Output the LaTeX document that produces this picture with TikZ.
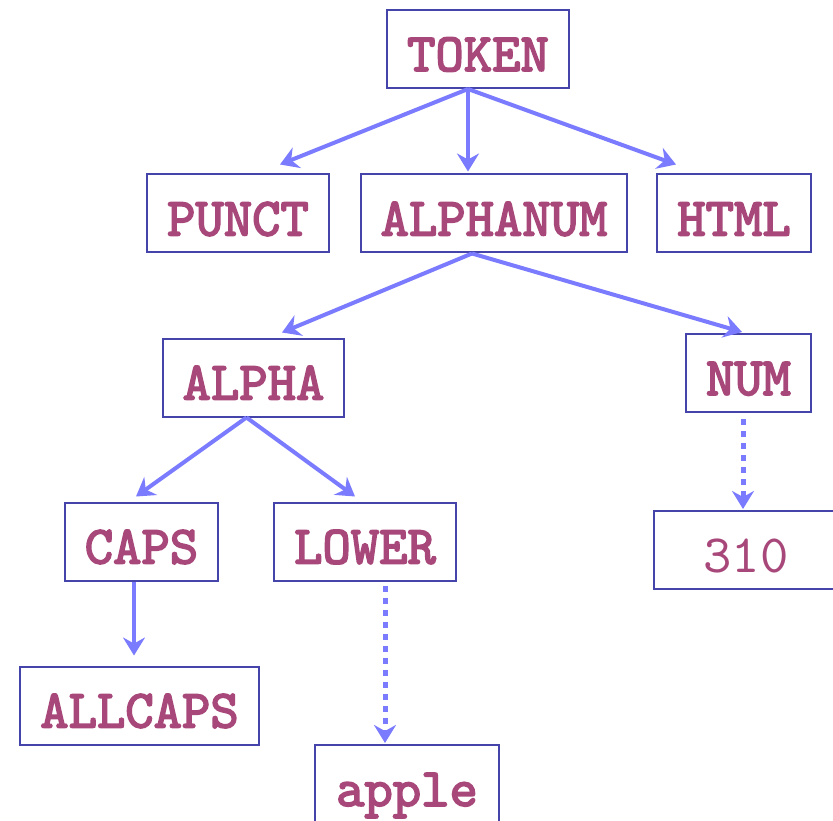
\documentclass[tikz,border=0pt]{standalone}
\usepackage{fontspec}
\setmonofont{lmmono10-regular.otf}[BoldFont=lmmono10-regular.otf,BoldFeatures={FakeBold=3}]
\usetikzlibrary{arrows.meta}
\definecolor{boxline}{HTML}{4444AA}
\definecolor{tagtext}{HTML}{A8487A}
\definecolor{arrowline}{HTML}{7B7BFF}

\begin{document}
\begin{tikzpicture}[x=1pt,y=-1pt,
    >={Stealth[length=18pt,width=22pt,inset=6pt]},
    tag/.style={draw=boxline,line width=2pt,text=tagtext,inner xsep=20pt,
        minimum height=78pt,text height=44pt,text depth=0pt,
        font=\ttfamily\bfseries\fontsize{54}{58}\selectfont},
    word/.style={tag,minimum width=184pt},
    link/.style={->,draw=arrowline,line width=4pt},
    value/.style={->,draw=arrowline,line width=5pt,dash pattern=on 6pt off 6pt}]
    \useasboundingbox (0,0) rectangle (833,821);
    \node[tag] (token) at (478,49) {TOKEN};
    \node[tag] (punct) at (238,213.5) {PUNCT};
    \node[tag] (alphanum) at (494,213.5) {ALPHANUM};
    \node[tag] (html) at (734,213.5) {HTML};
    \node[tag] (alpha) at (253.5,377.5) {ALPHA};
    \node[tag] (num) at (748.5,373) {NUM};
    \node[tag] (caps) at (141.5,541.5) {CAPS};
    \node[tag] (lower) at (365,541.5) {LOWER};
    \node[tag] (allcaps) at (139.5,705.5) {ALLCAPS};
    \node[word,font=\ttfamily\fontsize{54}{58}\selectfont] (n310) at (746,550) {310};
    \node[word] (apple) at (407,784) {apple};
    % tree edges
    \draw[link] ([xshift=-10pt]token.south) -- ([xshift=42pt,yshift=9pt]punct.north);
    \draw[link] ([xshift=-10pt]token.south) -- ([xshift=-26pt,yshift=2pt]alphanum.north);
    \draw[link] ([xshift=-10pt]token.south) -- ([xshift=-58pt,yshift=9pt]html.north);
    \draw[link] ([xshift=-22pt]alphanum.south) -- ([xshift=28.5pt,yshift=5pt]alpha.north);
    \draw[link] ([xshift=-22pt]alphanum.south) -- ([xshift=-6.5pt,yshift=1pt]num.north);
    \draw[link] ([xshift=-7pt]alpha.south) -- ([xshift=-5.5pt,yshift=5pt]caps.north);
    \draw[link] ([xshift=-7pt]alpha.south) -- ([xshift=-10pt,yshift=5pt]lower.north);
    \draw[link] ([xshift=-7.5pt]caps.south) -- ([xshift=-5.5pt,yshift=10pt]allcaps.north);
    % instances
    \draw[value] ([xshift=20pt,yshift=-4pt]lower.south) -- ([xshift=-22pt,yshift=1pt]apple.north);
    \draw[value] ([xshift=-5.5pt,yshift=-6pt]num.south) -- ([xshift=-3pt,yshift=1pt]n310.north);
\end{tikzpicture}
\end{document}
